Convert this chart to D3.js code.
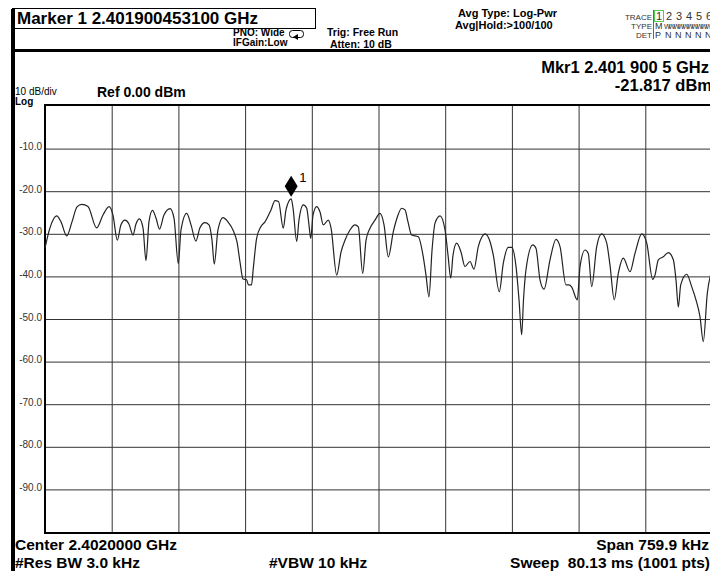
<!DOCTYPE html>
<html>
<head>
<meta charset="utf-8">
<script src="https://cdn.jsdelivr.net/npm/d3@7"></script>
<style>
  body { margin: 0; background: #fff; }
  svg text { font-family: "Liberation Sans", Arial, sans-serif; }
</style>
</head>
<body>
<div id="chart"></div>
<script>
// trace: offset from center (kHz) and level (dBm)
var freqKHz = [
  -379.9, -374.3, -366.6, -361.7, -355.2, -349.2, -343.5, -338.1, -331.0, -321.1,
  -313.9, -307.0, -302.5, -297.6, -293.4, -288.8, -284.3, -279.7, -276.3, -272.5,
  -268.3, -264.9, -261.5, -257.5, -253.5, -249.5, -244.4, -237.5, -233.0, -228.1,
  -225.0, -218.5, -213.6, -208.1, -203.4, -197.7, -193.1, -189.7, -187.1, -182.9,
  -177.2, -171.5, -165.4, -161.2, -157.8, -154.4, -150.4, -148.1, -144.7, -142.6,
  -138.8, -133.9, -129.3, -122.5, -117.9, -113.9, -108.5, -105.4, -99.5, -97.4,
  -93.2, -90.6, -85.7, -81.8, -79.2, -77.2, -74.6, -70.4, -66.6, -62.9,
  -57.2, -54.1, -47.6, -42.7, -38.2, -32.5, -26.8, -23.0, -18.0, -14.2,
  -9.7, -4.0, 1.7, 6.3, 11.2, 16.9, 21.1, 26.4, 30.2, 33.6,
  37.8, 45.3, 51.0, 54.1, 57.5, 61.0, 64.4, 70.1, 75.8, 79.2,
  82.3, 84.9, 89.1, 94.0, 98.5, 104.2, 108.8, 113.7, 117.9, 121.3,
  127.0, 130.8, 137.6, 142.2, 147.9, 151.8, 156.7, 160.1, 163.1, 165.2,
  168.0, 175.7, 179.4, 184.0, 188.6, 195.4, 202.2, 206.8, 213.6, 217.0,
  220.1, 226.5, 229.6, 235.3, 239.0, 242.9, 248.6, 254.3, 260.0, 263.7,
  268.6, 273.2, 278.9, 286.5, 292.2, 299.9, 305.6, 312.4, 315.0, 318.8,
  324.5, 330.2, 335.9, 338.9, 341.6, 344.3, 351.1, 356.8, 361.7, 366.3,
  370.0, 374.6, 379.9
];
var levelDbm = [
  -33.3, -28.6, -25.8, -27.2, -30.5, -27.2, -23.7, -23.1, -23.6, -28.6,
  -25.6, -23.6, -25.6, -31.5, -27.9, -26.8, -27.7, -30.3, -27.7, -26.5,
  -28.6, -36.3, -27.2, -24.5, -26.3, -28.9, -25.6, -24.1, -26.3, -37.0,
  -29.1, -25.2, -27.9, -31.7, -28.6, -27.4, -27.9, -31.5, -37.1, -29.1,
  -26.2, -27.2, -29.3, -31.9, -36.6, -40.6, -40.8, -42.0, -42.0, -38.0,
  -31.0, -28.3, -27.2, -24.4, -22.2, -22.4, -28.7, -24.4, -21.8, -23.9,
  -31.8, -26.8, -23.2, -24.0, -27.9, -31.1, -25.6, -23.6, -24.9, -27.9,
  -26.8, -28.6, -39.7, -34.3, -31.5, -29.1, -27.9, -28.4, -39.3, -31.5,
  -28.7, -26.8, -25.2, -27.9, -35.4, -29.5, -26.3, -24.0, -24.4, -27.2,
  -30.3, -30.7, -35.4, -39.7, -44.8, -33.8, -27.5, -25.8, -29.1, -35.0,
  -40.4, -35.0, -32.2, -34.3, -37.7, -36.5, -38.3, -33.0, -30.7, -30.0,
  -31.8, -35.0, -43.6, -36.9, -33.2, -33.2, -37.7, -45.5, -53.7, -45.5,
  -38.5, -32.6, -33.4, -40.8, -43.0, -36.1, -31.3, -33.0, -42.0, -42.0,
  -42.5, -45.5, -37.7, -33.8, -34.6, -42.4, -33.0, -30.0, -32.2, -37.3,
  -45.5, -39.3, -35.7, -38.9, -34.6, -30.0, -32.2, -40.7, -39.7, -36.1,
  -35.4, -34.4, -36.1, -40.8, -47.2, -42.0, -39.5, -42.4, -45.5, -49.5,
  -55.3, -44.0, -38.5
];
var yTicks = [-10, -20, -30, -40, -50, -60, -70, -80, -90];
var xTicks = [-303.96, -227.97, -151.98, -75.99, 0, 75.99, 151.98, 227.97, 303.96];
var markerFreq = -99.5, markerLevel = -21.8;

var W = 710, H = 571,
  plotL = 45, plotR = 712, plotT = 106, plotB = 532;

var x = d3.scaleLinear().domain([-379.95, 379.95]).range([plotL, plotR]);
var y = d3.scaleLinear().domain([-100, 0]).range([plotB, plotT]);

var svg = d3.select("#chart").append("svg")
  .attr("width", W).attr("height", H)
  .style("display", "block");

// frame of the instrument screen
svg.append("rect").attr("x", 11).attr("y", 9).attr("width", 4).attr("height", H - 9).attr("fill", "#000");
svg.append("rect").attr("x", 11).attr("y", 49).attr("width", W - 11).attr("height", 3).attr("fill", "#000");
svg.append("rect").attr("x", 12.5).attr("y", 8.5).attr("width", 303).attr("height", 20)
  .attr("fill", "none").attr("stroke", "#000");

function txt(s, tx, ty, size, weight, anchor) {
  return svg.append("text").attr("x", tx).attr("y", ty)
    .attr("font-size", size).attr("font-weight", weight || "normal")
    .attr("text-anchor", anchor || "start").attr("fill", "#000").text(s);
}

txt("Marker 1 2.401900453100 GHz", 17, 24, 17, "bold");
txt("PNO: Wide", 233, 36, 10, "bold");
txt("IFGain:Low", 233, 46, 10, "bold");
txt("Trig: Free Run", 327, 36, 10.5, "bold");
txt("Atten: 10 dB", 330, 47.5, 10.5, "bold");
txt("Avg Type: Log-Pwr", 458, 17, 11, "bold");
txt("Avg|Hold:>100/100", 455, 29, 11, "bold");

// PNO icon
svg.append("rect").attr("x", 289.5).attr("y", 30.5).attr("width", 14).attr("height", 7).attr("rx", 3)
  .attr("fill", "none").attr("stroke", "#000");
svg.append("path").attr("d", "M293,37 L298,34 L298,40 Z").attr("fill", "#000");

// trace table
txt("TRACE", 652, 20, 8, "normal", "end").attr("fill", "#333");
txt("TYPE", 652, 29, 8, "normal", "end").attr("fill", "#333");
txt("DET", 652, 38, 8, "normal", "end").attr("fill", "#333");
svg.append("line").attr("x1", 653.5).attr("x2", 653.5).attr("y1", 10).attr("y2", 39).attr("stroke", "#666");
svg.append("rect").attr("x", 654.5).attr("y", 10.5).attr("width", 9).attr("height", 11)
  .attr("fill", "none").attr("stroke", "#5c5");
["1", "2", "3", "4", "5", "6"].forEach(function(d, i) {
  txt(d, 656 + i * 10, 20, 11, "normal").attr("fill", "#333");
});
txt("M", 655, 29, 9, "normal").attr("fill", "#333");
txt("WWWWWWWWWW", 664, 29, 7, "normal").attr("fill", "#333").attr("textLength", 48);
["P", "N", "N", "N", "N", "N"].forEach(function(d, i) {
  txt(d, 655 + i * 10, 38, 9, "normal").attr("fill", "#333");
});

txt("Mkr1 2.401 900 5 GHz", 709, 73, 16.5, "bold", "end");
txt("-21.817 dBm", 712, 91, 16.5, "bold", "end");

txt("10 dB/div", 15, 95, 10, "normal");
txt("Log", 15, 105, 10, "bold");
txt("Ref 0.00 dBm", 97, 97, 14, "bold");

// grid
var g = svg.append("g");
g.append("g").attr("transform", "translate(" + plotL + ",0)")
  .call(d3.axisLeft(y).tickValues(yTicks).tickSize(-(plotR - plotL)).tickFormat(function(d) { return d.toFixed(1); }))
  .call(function(a) {
    a.select(".domain").remove();
    a.selectAll("line").attr("stroke", "#333");
    a.selectAll("text").attr("x", -3).attr("dy", "0.1em").attr("font-size", 10)
      .attr("font-family", "Liberation Sans, Arial, sans-serif").attr("fill", "#333");
  });
g.append("g").attr("transform", "translate(0," + plotB + ")")
  .call(d3.axisBottom(x).tickValues(xTicks).tickSize(-(plotB - plotT)).tickFormat(""))
  .call(function(a) {
    a.select(".domain").remove();
    a.selectAll("line").attr("stroke", "#333");
  });

svg.append("rect").attr("x", plotL).attr("y", plotT - 1).attr("width", plotR - plotL + 2).attr("height", plotB - plotT + 2)
  .attr("fill", "none").attr("stroke", "#000").attr("stroke-width", 2);

// trace
var line = d3.line()
  .x(function(d, i) { return x(freqKHz[i]); })
  .y(function(d) { return y(d); })
  .curve(d3.curveMonotoneX);

svg.append("path").attr("d", line(levelDbm))
  .attr("fill", "none").attr("stroke", "#222").attr("stroke-width", 1.2);

// marker
var mx = x(markerFreq), my = y(markerLevel);
svg.append("path")
  .attr("d", "M" + mx + "," + (my - 23) + " L" + (mx + 6.5) + "," + (my - 12.5) + " L" + mx + "," + (my - 2) + " L" + (mx - 6.5) + "," + (my - 12.5) + " Z")
  .attr("fill", "#000");
txt("1", mx + 8, my - 17, 13, "normal");

// bottom annotations
txt("Center 2.4020000 GHz", 15, 550, 15.5, "bold");
txt("#Res BW 3.0 kHz", 15, 568, 15.5, "bold");
txt("#VBW 10 kHz", 269, 568, 15.5, "bold");
txt("Span 759.9 kHz", 709, 550, 15.5, "bold", "end");
txt("Sweep  80.13 ms (1001 pts)", 710, 568, 15.5, "bold", "end").style("white-space", "pre");
</script>
</body>
</html>
